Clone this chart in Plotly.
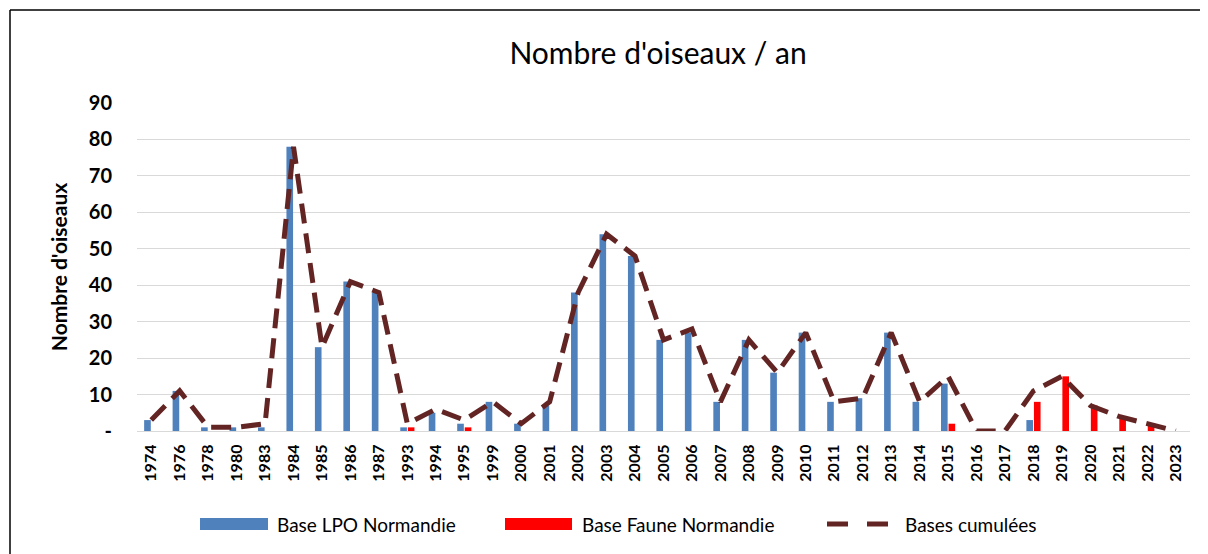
import plotly.graph_objects as go

years = ["1974", "1976", "1978", "1980", "1983", "1984", "1985", "1986", "1987",
         "1993", "1994", "1995", "1999", "2000", "2001", "2002", "2003", "2004",
         "2005", "2006", "2007", "2008", "2009", "2010", "2011", "2012", "2013",
         "2014", "2015", "2016", "2017", "2018", "2019", "2020", "2021", "2022", "2023"]

lpo = [3, 11, 1, 1, 1, 78, 23, 41, 38,
       1, 5, 2, 8, 2, 7, 38, 54, 48,
       25, 27, 8, 25, 16, 27, 8, 9, 27,
       8, 13, 0, 0, 3, 0, 0, 0, 0, 0]

faune = [0, 0, 0, 0, 0, 0, 0, 0, 0,
         1, 0, 1, 0, 0, 0, 0, 0, 0,
         0, 0, 0, 0, 0, 0, 0, 0, 0,
         0, 2, 0, 0, 8, 15, 7, 4, 2, 0]

cumul = [3, 11, 1, 1, 2, 78, 23, 41, 38,
         2, 6, 3, 8, 2, 8, 38, 54, 48,
         25, 28, 8, 25, 16, 27, 8, 9, 27,
         8, 15, 0, 0, 11, 15, 7, 4, 2, 0]

y_ticks = [0, 10, 20, 30, 40, 50, 60, 70, 80, 90]
y_ticktext = ["-", "10", "20", "30", "40", "50", "60", "70", "80", "90"]

series_names = ["Base LPO Normandie", "Base Faune Normandie", "Bases cumulées"]

BLUE = "#4F81BD"
RED = "#FF0000"
MAROON = "#632523"
FONT = "Lato"

# the page body adds an 8px offset; work in page pixels and convert
OFF = 8
W, H = 1200, 546
L, T = 137 - OFF, 103 - OFF
R = W - (1190 - OFF)
B = H - (431 - OFF)
PW, PH = W - L - R, H - T - B


def px(x):
    return (x - OFF - L) / PW


def py(y):
    return (H - B - (y - OFF)) / PH


fig = go.Figure()
fig.add_trace(go.Bar(x=years, y=lpo, name=series_names[0],
                     marker=dict(color=BLUE, line=dict(width=0)), showlegend=False))
fig.add_trace(go.Bar(x=years, y=faune, name=series_names[1],
                     marker=dict(color=RED, line=dict(width=0)), showlegend=False))
fig.add_trace(go.Scatter(x=years, y=cumul, name=series_names[2], mode="lines",
                         line=dict(color=MAROON, width=5, dash="20px,10px"),
                         showlegend=False))

LEG_Y = 524
shapes = [
    # outer frame (top and left edges visible in the window)
    dict(type="line", xref="paper", yref="paper",
         x0=px(10), x1=px(1230), y0=py(10), y1=py(10),
         line=dict(color="#000000", width=1.5), layer="below"),
    dict(type="line", xref="paper", yref="paper",
         x0=px(10), x1=px(10), y0=py(10), y1=py(600),
         line=dict(color="#000000", width=1.5), layer="below"),
    # legend swatches
    dict(type="rect", xref="paper", yref="paper",
         x0=px(200), x1=px(268), y0=py(LEG_Y + 6), y1=py(LEG_Y - 6),
         line=dict(width=0), fillcolor=BLUE),
    dict(type="rect", xref="paper", yref="paper",
         x0=px(505), x1=px(572), y0=py(LEG_Y + 6), y1=py(LEG_Y - 6),
         line=dict(width=0), fillcolor=RED),
    dict(type="line", xref="paper", yref="paper",
         x0=px(827), x1=px(848), y0=py(LEG_Y), y1=py(LEG_Y),
         line=dict(color=MAROON, width=5)),
    dict(type="line", xref="paper", yref="paper",
         x0=px(867), x1=px(888), y0=py(LEG_Y), y1=py(LEG_Y),
         line=dict(color=MAROON, width=5)),
]

annotations = [
    dict(text=series_names[0], xref="paper", yref="paper", x=px(275), y=py(LEG_Y),
         xanchor="left", yanchor="middle", showarrow=False,
         font=dict(family=FONT, size=19, color="#000000")),
    dict(text=series_names[1], xref="paper", yref="paper", x=px(580), y=py(LEG_Y),
         xanchor="left", yanchor="middle", showarrow=False,
         font=dict(family=FONT, size=19, color="#000000")),
    dict(text=series_names[2], xref="paper", yref="paper", x=px(903), y=py(LEG_Y),
         xanchor="left", yanchor="middle", showarrow=False,
         font=dict(family=FONT, size=19, color="#000000")),
]

fig.update_layout(
    width=W, height=H,
    margin=dict(l=L, r=R, t=T, b=B),
    paper_bgcolor="white", plot_bgcolor="white",
    barmode="group", bargap=0.47, bargroupgap=0.12,
    showlegend=False,
    title=dict(text="Nombre d'oiseaux / an", x=(658 - OFF) / W, xanchor="center",
               y=1 - (53 - OFF) / H, yanchor="middle",
               font=dict(family=FONT, size=30, color="#000000")),
    font=dict(family=FONT, color="#000000"),
    xaxis=dict(type="category", tickangle=-90, showgrid=False, automargin=False,
               showline=True, linecolor="#D9D9D9", linewidth=1.3,
               ticks="", ticklabelstandoff=6,
               tickfont=dict(family=FONT, size=16, color="#000000", weight="bold")),
    yaxis=dict(range=[0, 90], tickvals=y_ticks, ticktext=y_ticktext, automargin=False,
               showgrid=True, gridcolor="#D9D9D9", gridwidth=1.3,
               zeroline=False, showline=False, ticks="", ticklabelstandoff=24,
               tickfont=dict(family=FONT, size=20, color="#000000", weight="bold"),
               title=dict(text="Nombre d'oiseaux", standoff=15,
                          font=dict(family=FONT, size=21, color="#000000", weight="bold"))),
    shapes=shapes,
    annotations=annotations,
)

fig.write_html("out.html")
